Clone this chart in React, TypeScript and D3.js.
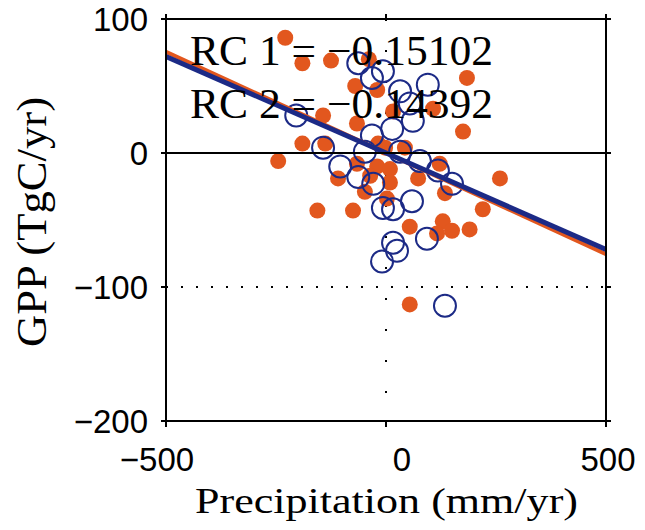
import React from "react";
import * as d3 from "d3";

const xTicks = [-500, 0, 500];
const yTicks = [100, 0, -100, -200];
const xTickLabels = ["\u2212500", "0", "500"];
const yTickLabels = ["100", "0", "\u2212100", "\u2212200"];

// Series 1 (filled orange)
const s1x = [-229, -190, -125, -39, -70, -20, 16, 107, 184, 175, -143, -66, -190, -138, -245, -2, 43, -18, -20, 9, -66, -109, -48, 9, 2, -156, -75, 122, 73, 134, 259, 220, 54, 129, 116, 150, 190, 54, -36];
const s1y = [86, 67, 69, 70, 50, 47, 31, 33, 56, 16, 28, 22, 7, 7, -6, 4, 4, 7, -10, -12, -8, -19, -29, -22, -34, -43, -43, -8, -19, -30, -19, -42, -55, -51, -60, -58, -57, -113, -17];

// Series 2 (open blue)
const s2x = [-63, -32, -7, 95, 54, 61, 14, -32, -204, -143, -104, -63, -29, 32, 77, 118, 150, 59, 16, -7, 93, 16, 25, -9, 134, -48, 32];
const s2y = [67, 56, 61, 51, 37, 24, 18, 13, 28, 4, -10, -18, -23, 1, -6, -13, -23, -36, -42, -41, -64, -67, -73, -81, -114, 1, 46];

const rcLabels = ["RC 1 = \u22120.15102", "RC 2 = \u22120.14392"];
const slopes = [-0.15102, -0.14392];
const intercepts = [0, 0];

const ORANGE = "#e2571e";
const BLUE = "#1c2a86";

export default function App() {
  const x = d3.scaleLinear().domain([-500, 500]).range([166, 606]);
  const y = d3.scaleLinear().domain([-200, 100]).range([421, 19]);
  const [x0, x1] = x.range();
  const [yb, yt] = y.range();

  const serif = "'Liberation Serif', 'Times New Roman', serif";
  const sans = "'Liberation Sans', Arial, sans-serif";

  return (
    <svg
      width={645}
      height={530}
      style={{ position: "absolute", left: 0, top: 0, background: "#fff" }}
    >
      <defs>
        <clipPath id="plot">
          <rect x={x0} y={yt} width={x1 - x0} height={yb - yt} />
        </clipPath>
      </defs>
      {/* dotted reference lines */}
      <line x1={x0} x2={x1} y1={y(-100)} y2={y(-100)} stroke="#000" strokeWidth={2.2} strokeDasharray="2,13" />
      <line x1={x(0)} x2={x(0)} y1={yt} y2={yb} stroke="#000" strokeWidth={2} strokeDasharray="2,29" />

      <g clipPath="url(#plot)">
        {s1x.map((v, i) => (
          <circle key={"o" + i} cx={x(v)} cy={y(s1y[i])} r={8} fill={ORANGE} />
        ))}
        {s2x.map((v, i) => (
          <circle key={"b" + i} cx={x(v)} cy={y(s2y[i])} r={11} fill="none" stroke={BLUE} strokeWidth={2} />
        ))}
        {[0, 1].map((k) => (
          <path
            key={"l" + k}
            d={
              d3
                .line<number>()
                .x((d) => x(d))
                .y((d) => y(slopes[k] * d + intercepts[k]))([-500, 500]) || ""
            }
            stroke={k === 0 ? ORANGE : BLUE}
            strokeWidth={k === 0 ? 4 : 5}
            fill="none"
          />
        ))}
      </g>

      {/* zero line */}
      <line x1={x0} x2={x1} y1={y(0)} y2={y(0)} stroke="#000" strokeWidth={2} />
      {/* frame */}
      <rect x={x0} y={yt} width={x1 - x0} height={yb - yt} fill="none" stroke="#000" strokeWidth={2} />

      {/* ticks */}
      {xTicks.map((t) => (
        <g key={"xt" + t}>
          <line x1={x(t)} x2={x(t)} y1={yb} y2={yb + 6} stroke="#000" strokeWidth={2} />
          <line x1={x(t)} x2={x(t)} y1={yt} y2={yt - 5} stroke="#000" strokeWidth={2} />
        </g>
      ))}
      {yTicks.map((t) => (
        <g key={"yt" + t}>
          <line x1={x0 - 5} x2={x0} y1={y(t)} y2={y(t)} stroke="#000" strokeWidth={2} />
          <line x1={x1} x2={x1 + 5} y1={y(t)} y2={y(t)} stroke="#000" strokeWidth={2} />
        </g>
      ))}

      {/* tick labels */}
      {xTicks.map((t, i) => (
        <text
          key={"xl" + t}
          x={x(t) + (t === 0 ? 16 : t < 0 ? -9 : 2)}
          y={471}
          textAnchor="middle"
          fontFamily={sans}
          fontSize={33}
          fill="#000"
        >
          {xTickLabels[i]}
        </text>
      ))}
      {yTicks.map((t, i) => (
        <text
          key={"yl" + t}
          x={148}
          y={y(t) + 12}
          textAnchor="end"
          fontFamily={sans}
          fontSize={33}
          fill="#000"
        >
          {yTickLabels[i]}
        </text>
      ))}

      {/* RC annotations */}
      {rcLabels.map((s, i) => (
        <text
          key={"rc" + i}
          x={190}
          y={65 + i * 53}
          fontFamily={serif}
          fontSize={42}
          textLength={303}
          lengthAdjust="spacingAndGlyphs"
          fill="#000"
        >
          {s}
        </text>
      ))}

      {/* axis titles */}
      <text
        x={195}
        y={513}
        fontFamily={serif}
        fontSize={36}
        textLength={383}
        lengthAdjust="spacingAndGlyphs"
        fill="#000"
      >
        Precipitation (mm/yr)
      </text>
      <text
        transform="translate(46,222) rotate(-90)"
        textAnchor="middle"
        fontFamily={serif}
        fontSize={42}
        textLength={250}
        lengthAdjust="spacingAndGlyphs"
        fill="#000"
      >
        GPP (TgC/yr)
      </text>
    </svg>
  );
}
